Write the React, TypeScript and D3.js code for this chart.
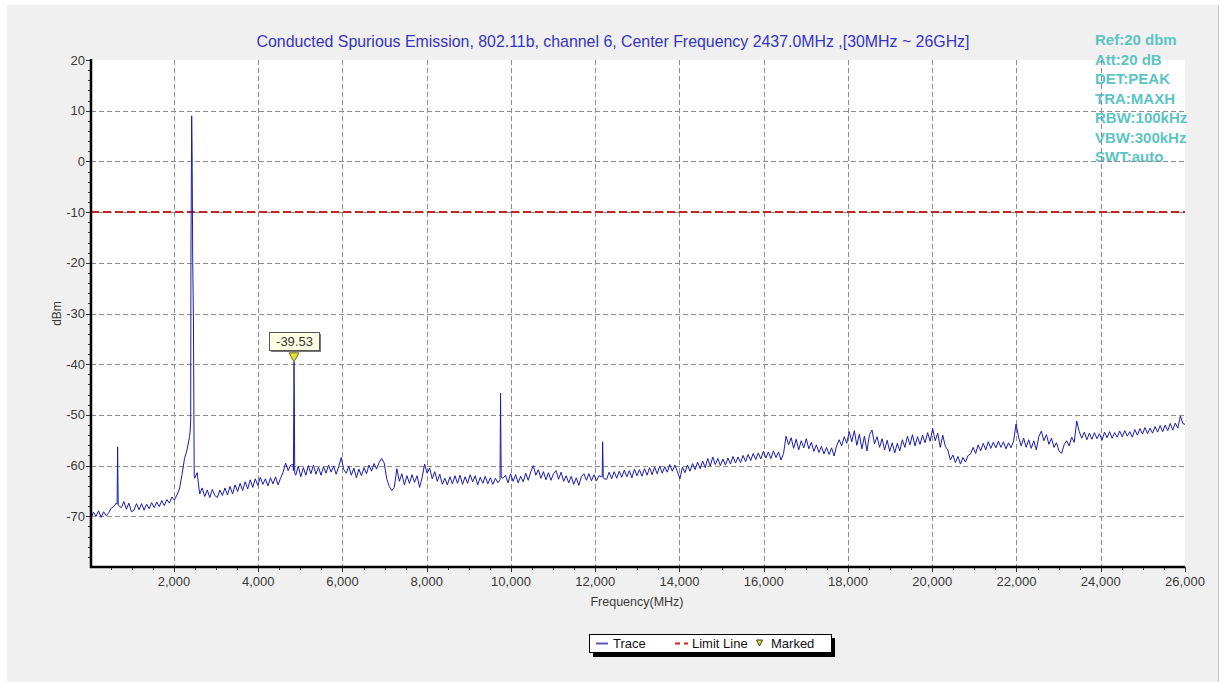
import * as d3 from "d3";

const WIDTH = 1222;
const HEIGHT = 682;

const chartTitle =
  "Conducted Spurious Emission, 802.11b, channel 6, Center Frequency 2437.0MHz ,[30MHz ~ 26GHz]";
const analyzerSettings = [
  "Ref:20 dbm",
  "Att:20 dB",
  "DET:PEAK",
  "TRA:MAXH",
  "RBW:100kHz",
  "VBW:300kHz",
  "SWT:auto",
];

const freqTicks = [2000, 4000, 6000, 8000, 10000, 12000, 14000, 16000, 18000, 20000, 22000, 24000, 26000];
const levelTicks = [20, 10, 0, -10, -20, -30, -40, -50, -60, -70];
const freqDomain = [30, 26000];
const levelDomain = [-80, 20];

const limitLevel = -10;
const markerFreq = 4850;
const markerLevel = -39.53;

// sweep points: first point at 30 MHz, one every 60 MHz
const sweepStart = 30;
const sweepStep = 60;
const traceLevels = [
  -70.3, -69.2, -70, -68.9, -70.2, -69.1, -69.9, -69.3, -68.4, -68.1,
  -67.4, -67.9, -68.3, -67.1, -68.6, -67.4, -69.1, -68.8, -67.5, -68.7,
  -67.5, -68.8, -67.6, -68.5, -67.3, -68.3, -67.2, -68.1, -66.9, -67.9,
  -66.7, -67.4, -66.2, -66.8, -65.8, -64.6, -61.8, -58.6, -56.9, -54.3,
  -63, -62.5, -61.4, -65.6, -64.4, -66.1, -64.8, -66.3, -64.7, -65.9,
  -66.3, -64.8, -65.9, -64.4, -65.8, -64.1, -65.6, -63.8, -65.1, -63.5,
  -64.9, -63.2, -64.6, -62.8, -64.3, -62.6, -63.9, -62.3, -63.7, -62.6,
  -64, -62.4, -63.6, -62.2, -63.8, -62.5, -61.3, -59.5, -61, -59.9,
  -59.8, -61.9, -60.1, -62.2, -60.4, -61.9, -60, -61.6, -59.9, -61.7,
  -60.3, -61.9, -60.2, -61.5, -59.9, -61.3, -60.1, -61.7, -60.2, -58.4,
  -60.8, -61.5, -60.1, -61.9, -60.5, -62.4, -60.7, -62, -60.4, -61.6,
  -59.9, -61.1, -59.6, -60.7, -59.4, -58.6, -59.5, -62.6, -64.1, -64.9,
  -64.3, -60.6, -63.1, -61.6, -63.8, -62, -63.5, -61.8, -63.3, -62,
  -64.3, -62.4, -59.7, -61.5, -60.5, -62.6, -61.2, -63.1, -61.7, -63.7,
  -62.5, -63.8, -62.2, -63.6, -62, -63.5, -61.9, -63.7, -62.2, -63.5,
  -61.8, -63.2, -62, -63.8, -62.3, -63.5, -62.1, -63.6, -62.4, -63.7,
  -62.5, -63.4, -62.8, -62.5, -61.9, -63.4, -61.6, -63.1, -61.8, -63.4,
  -62.1, -63.2, -61.5, -62.9, -61.2, -60, -61.9, -60.8, -62.5, -61.2,
  -62.8, -61.4, -62.9, -61.6, -61, -62.7, -61.3, -63.1, -62, -63.4,
  -62.1, -63.7, -62.4, -63.9, -62.2, -61.6, -62.9, -61.6, -63, -61.8,
  -63, -62, -62.2, -62.6, -62.7, -61.3, -62.6, -61.2, -62.5, -61.1,
  -62.3, -60.9, -62.2, -61, -62.4, -60.7, -62, -60.8, -62.1, -60.6,
  -61.9, -60.4, -61.8, -60.3, -61.6, -60.1, -61.5, -60.2, -61.3, -59.8,
  -61.1, -59.9, -61.2, -62.6, -60.3, -61.4, -59.9, -61.1, -59.6, -60.8,
  -59.3, -60.6, -59.1, -60.4, -58.6, -60.1, -58.3, -59.8, -58.6, -60,
  -58.7, -59.9, -58.5, -59.7, -58.2, -59.5, -58.3, -59.4, -58, -59.2,
  -57.8, -59, -57.6, -58.8, -57.5, -58.7, -57.2, -58.5, -57.3, -58.6,
  -57.1, -58.4, -57.3, -58.9, -57.6, -54.2, -55.9, -54.5, -56.6, -54.8,
  -56.9, -55.1, -56.5, -54.7, -56.7, -55.4, -57.2, -55.9, -57.4, -56.2,
  -57.7, -56.4, -57.8, -56.5, -58.1, -56.1, -54.9, -56.1, -54.3, -55.6,
  -53.3, -55.3, -53.1, -56, -53.8, -56.7, -54.2, -57.1, -53.9, -53,
  -55.7, -54.3, -56.4, -54.7, -56.9, -55, -57.2, -55.5, -57.5, -55.6,
  -57.1, -54.9, -56.4, -54.2, -55.9, -53.9, -56.1, -54.3, -55.8, -54,
  -55.5, -53.5, -55.2, -52.7, -55.1, -53.6, -56.4, -54, -56.2, -56.9,
  -58.9, -57.9, -59.4, -58.2, -59.7, -58.4, -59.3, -58, -57.7, -56.4,
  -57.6, -55.9, -57.1, -55.6, -56.9, -55.3, -56.6, -55.4, -56.5, -55.2,
  -56.4, -55.3, -56.7, -55.5, -56.5, -55.2, -51.8, -54.4, -56.1, -54.6,
  -56.4, -54.9, -56.6, -55.1, -56.9, -54.3, -53.2, -55.1, -53.9, -55.8,
  -54.6, -56.4, -55.5, -57.1, -57.6, -55.9, -55.1, -56.1, -54.4, -55.4,
  -51.2, -53.3, -54.6, -53.4, -54.9, -53.6, -54.8, -53.5, -54.7, -53.7,
  -55, -53.4, -54.5, -53.3, -54.6, -53.5, -54.4, -53.2, -54.3, -53.1,
  -54.2, -53.3, -54.4, -52.9, -54, -52.7, -53.8, -52.5, -53.7, -52.6,
  -53.6, -52.3, -53.4, -52.1, -53.3, -52, -53.1, -51.7, -53, -51.6,
  -52.6, -50.2, -51.7, -51.9,
];

// narrow spurs read at finer resolution: [MHz, dBm]; they replace the sweep points they span
const spurFirst = [[650, -67.6], [662, -56.3], [668, -61.6], [676, -67.8]];
const spurCarrier = [
  [2385, -53], [2397, -51], [2402, -20], [2420, 9], [2430, 1.9], [2445, -20], [2462, -31.3], [2480, -62],
];
const spurSecond = [[4835, -61], [4850, -39.53], [4858, -48.4], [4866, -61.5]];
const spurFourth = [[9740, -62.8], [9752, -45.7], [9760, -54], [9768, -62.3]];
const spurFifth = [[12165, -62.2], [12175, -55.3], [12183, -58.4], [12190, -62.4]];
const spurs = [spurFirst, spurCarrier, spurSecond, spurFourth, spurFifth];

const FONT = "'Liberation Sans', Arial, sans-serif";

const App = () => {
  const left = 91;
  const right = 1185;
  const top = 60;
  const bottom = 567;

  const x = d3.scaleLinear().domain(freqDomain).range([left, right]);
  const y = d3.scaleLinear().domain(levelDomain).range([bottom, top]);

  const sweep = traceLevels.map((v, i) => ({ f: sweepStart + i * sweepStep, v }));
  const kept = sweep.filter(
    (p) => !spurs.some((g) => p.f >= g[0][0] && p.f <= g[g.length - 1][0])
  );
  const trace = [...kept, ...spurs.flat().map(([f, v]) => ({ f, v }))].sort((a, b) => a.f - b.f);

  const line = d3
    .line<any>()
    .x((d) => x(d.f))
    .y((d) => y(d.v));

  const minorFreq = d3.range(500, 26000, 500).filter((f) => f % 2000 !== 0);
  const minorLevel = d3.range(-80, 20, 2).filter((v) => v % 10 !== 0);

  const mx = x(markerFreq);
  const my = y(markerLevel);

  return (
    <svg
      width={WIDTH}
      height={HEIGHT}
      style={{ position: "absolute", left: 0, top: 0 }}
      fontFamily={FONT}
    >
      <defs>
        <clipPath id="plot-clip">
          <rect x={left} y={top} width={right - left} height={bottom - top} />
        </clipPath>
      </defs>
      <rect width={WIDTH} height={HEIGHT} fill="#ffffff" />
      <rect x={7} y={5} width={1212} height={677} fill="#f0f0f0" />
      <line x1={1218.5} x2={1218.5} y1={5} y2={682} stroke="#c4c4c4" />

      <text x={613} y={47} textAnchor="middle" fontSize={15.9} fill="#3434c4">
        {chartTitle}
      </text>

      <rect x={left} y={top} width={right - left} height={bottom - top} fill="#ffffff" />

      {analyzerSettings.map((s, i) => (
        <text
          key={s}
          x={1095}
          y={45 + i * 19.5}
          fontSize={15}
          fontWeight="bold"
          fill="#5cc4c4"
        >
          {s}
        </text>
      ))}

      {/* grid */}
      <g stroke="#8c8c8c" strokeWidth={1} strokeDasharray="5,3">
        {freqTicks
          .filter((f) => f < 26000)
          .map((f) => (
            <line key={f} x1={Math.round(x(f)) + 0.5} x2={Math.round(x(f)) + 0.5} y1={top} y2={bottom} />
          ))}
        {levelTicks
          .filter((v) => v < 20)
          .map((v) => (
            <line key={v} x1={left} x2={right} y1={Math.round(y(v)) + 0.5} y2={Math.round(y(v)) + 0.5} />
          ))}
      </g>

      {/* limit line */}
      <line
        x1={left}
        x2={right}
        y1={y(limitLevel)}
        y2={y(limitLevel)}
        stroke="#cc2222"
        strokeWidth={2}
        strokeDasharray="8,4"
      />

      {/* trace */}
      <path
        d={line(trace) ?? ""}
        fill="none"
        stroke="#1c1cac"
        strokeWidth={1}
        clipPath="url(#plot-clip)"
      />

      {/* axes */}
      <g stroke="#333">
        {levelTicks.map((v) => (
          <line key={v} x1={left - 5} x2={left} y1={Math.round(y(v)) + 0.5} y2={Math.round(y(v)) + 0.5} />
        ))}
        {minorLevel.map((v) => (
          <line key={v} x1={left - 3} x2={left} y1={Math.round(y(v)) + 0.5} y2={Math.round(y(v)) + 0.5} />
        ))}
        {freqTicks.map((f) => (
          <line key={f} x1={Math.round(x(f)) + 0.5} x2={Math.round(x(f)) + 0.5} y1={bottom} y2={bottom + 5} />
        ))}
        {minorFreq.map((f) => (
          <line key={f} x1={Math.round(x(f)) + 0.5} x2={Math.round(x(f)) + 0.5} y1={bottom} y2={bottom + 3} />
        ))}
      </g>
      <line x1={left} x2={left} y1={top - 1} y2={bottom + 1} stroke="#000" strokeWidth={2.5} />
      <line x1={left - 1} x2={right} y1={bottom} y2={bottom} stroke="#000" strokeWidth={2.5} />

      <g fontSize={13} fill="#3a3a3a">
        {levelTicks.map((v) => (
          <text key={v} x={85} y={y(v)} dy="0.35em" textAnchor="end">
            {v}
          </text>
        ))}
        {freqTicks.map((f) => (
          <text key={f} x={x(f)} y={586} textAnchor="middle">
            {d3.format(",")(f)}
          </text>
        ))}
      </g>
      <text x={637} y={606} textAnchor="middle" fontSize={12.5} fill="#3a3a3a">
        Frequency(MHz)
      </text>
      <text
        transform={`translate(61 ${(top + bottom) / 2}) rotate(-90)`}
        textAnchor="middle"
        fontSize={12}
        fill="#3a3a3a"
      >
        dBm
      </text>

      {/* marker */}
      <path
        d={`M${mx},${my} L${mx - 5},${my - 9} L${mx + 5},${my - 9} Z`}
        fill="#e4e42a"
        stroke="#6a6a40"
        strokeWidth={1}
      />
      <rect x={271} y={334} width={50} height={18} fill="#777" />
      <rect x={269.5} y={332.5} width={50} height={18} fill="#ffffe4" stroke="#555" />
      <text x={294.5} y={346} textAnchor="middle" fontSize={13} fill="#333">
        {markerLevel}
      </text>

      {/* legend */}
      <rect x={593} y={638} width={242} height={19} fill="#000" />
      <rect x={589.5} y={634.5} width={242} height={18} fill="#ffffff" stroke="#000" />
      <line x1={596} x2={608} y1={643.5} y2={643.5} stroke="#5a5ab8" strokeWidth={2} />
      <text x={613} y={648} fontSize={13} fill="#111">
        Trace
      </text>
      <line x1={675} x2={688} y1={643.5} y2={643.5} stroke="#cc2222" strokeWidth={2} strokeDasharray="5,4" />
      <text x={692} y={648} fontSize={13} fill="#111">
        Limit Line
      </text>
      <path d="M756.5,640 L762.5,640 L759.5,646 Z" fill="#e4e42a" stroke="#333" strokeWidth={1} />
      <text x={771} y={648} fontSize={13} fill="#111">
        Marked
      </text>
    </svg>
  );
};

export default App;
